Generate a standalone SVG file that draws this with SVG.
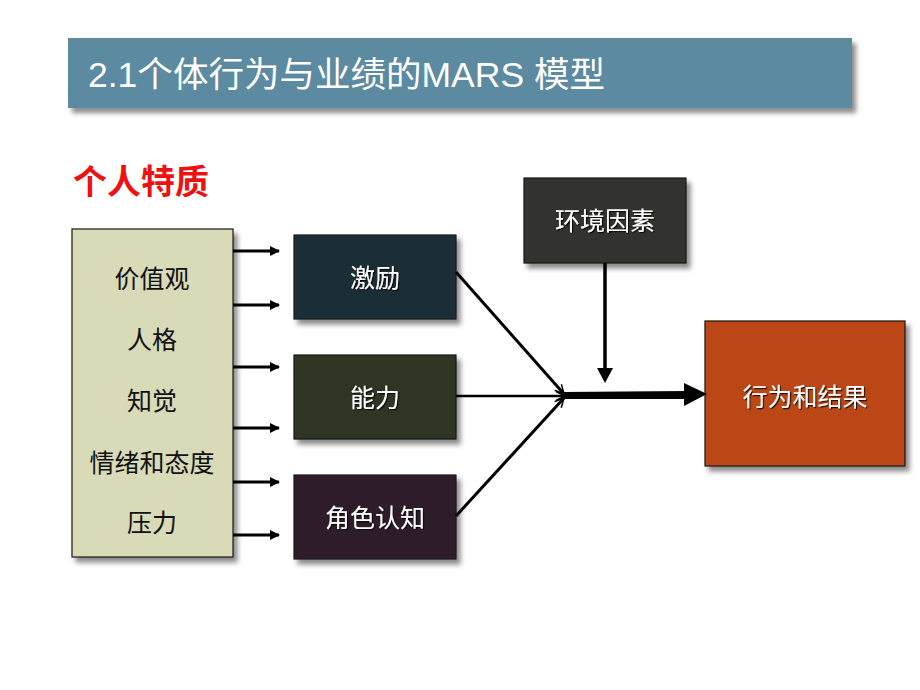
<svg xmlns="http://www.w3.org/2000/svg" width="920" height="690" viewBox="0 0 920 690">
<style>
.cn{font-family:"Liberation Sans","Noto Sans CJK SC",sans-serif;}
.lbl{font-size:25px;text-anchor:middle;font-family:"Liberation Sans","Noto Sans CJK SC",sans-serif;}
.w{fill:#ffffff;}
.k{fill:#111111;}
.box{stroke:#1a1a1a;stroke-width:1.2;filter:url(#sh);}
.ln{stroke:#000;fill:none;}
</style>
<defs>
<filter id="sh" x="-10%" y="-10%" width="130%" height="130%">
<feDropShadow dx="4" dy="5" stdDeviation="2.5" flood-color="#000" flood-opacity="0.45"/>
</filter>
<filter id="ts" x="-10%" y="-20%" width="130%" height="150%">
<feDropShadow dx="1.2" dy="1.2" stdDeviation="0.6" flood-color="#000" flood-opacity="0.8"/>
</filter>
<marker id="ah" markerWidth="10" markerHeight="10" refX="9" refY="5" orient="auto" markerUnits="userSpaceOnUse">
<path d="M0,0 L10,5 L0,10 Z" fill="#000"/>
</marker>
<marker id="oa" markerWidth="12" markerHeight="12" refX="11" refY="6" orient="auto" markerUnits="userSpaceOnUse">
<path d="M2,1.5 L11,6 L2,10.5" fill="none" stroke="#000" stroke-width="1.5"/>
</marker>
</defs>
<rect width="920" height="690" fill="#ffffff"/>
<g id="title">
<rect x="68" y="38" width="784" height="70" fill="#5b8aa0" filter="url(#sh)"/>
<text x="88" y="87" class="cn" font-size="35" fill="#ffffff" textLength="517" lengthAdjust="spacingAndGlyphs">2.1个体行为与业绩的MARS 模型</text>
</g>
<g id="heading">
<text x="73" y="194" class="cn" font-size="34" font-weight="bold" fill="#ee1111">个人特质</text>
</g>
<g id="traits">
<rect class="box" x="72" y="229" width="161" height="328" fill="#d8dab8"/>
<text class="lbl k" x="152" y="288">价值观</text>
<text class="lbl k" x="152" y="349">人格</text>
<text class="lbl k" x="152" y="410">知觉</text>
<text class="lbl k" x="152" y="472">情绪和态度</text>
<text class="lbl k" x="152" y="532">压力</text>
</g>
<g id="motivation">
<rect class="box" x="294" y="235" width="162" height="84" fill="#1f2f36"/>
<text class="lbl w" x="375" y="287" filter="url(#ts)">激励</text>
</g>
<g id="ability">
<rect class="box" x="294" y="355" width="162" height="84" fill="#2e3420"/>
<text class="lbl w" x="375" y="407" filter="url(#ts)">能力</text>
</g>
<g id="role">
<rect class="box" x="294" y="475" width="162" height="84" fill="#2e1c2c"/>
<text class="lbl w" x="375" y="527" filter="url(#ts)">角色认知</text>
</g>
<g id="environment">
<rect class="box" x="524" y="178" width="162" height="85" fill="#33332e"/>
<text class="lbl w" x="605" y="230" filter="url(#ts)">环境因素</text>
</g>
<g id="outcome">
<rect class="box" x="705" y="321" width="200" height="145" fill="#bb4719"/>
<text class="lbl w" x="805" y="406" filter="url(#ts)">行为和结果</text>
</g>
<g id="connectors">
<line class="ln" x1="233" y1="251" x2="279" y2="251" stroke-width="3" marker-end="url(#ah)"/>
<line class="ln" x1="233" y1="305" x2="279" y2="305" stroke-width="3" marker-end="url(#ah)"/>
<line class="ln" x1="233" y1="367" x2="279" y2="367" stroke-width="3" marker-end="url(#ah)"/>
<line class="ln" x1="233" y1="428" x2="279" y2="428" stroke-width="3" marker-end="url(#ah)"/>
<line class="ln" x1="233" y1="482" x2="279" y2="482" stroke-width="3" marker-end="url(#ah)"/>
<line class="ln" x1="233" y1="535" x2="279" y2="535" stroke-width="3" marker-end="url(#ah)"/>
<line class="ln" x1="456" y1="272" x2="564" y2="394" stroke-width="3" marker-end="url(#oa)"/>
<line class="ln" x1="456" y1="396" x2="565" y2="396" stroke-width="2.5" marker-end="url(#oa)"/>
<line class="ln" x1="456" y1="516" x2="564" y2="398" stroke-width="3" marker-end="url(#oa)"/>
<path d="M563,392 L686,391 L686,399 L563,399 Z" fill="#000"/>
<path d="M684,383 L707,394 L684,406 Z" fill="#000"/>
<line class="ln" x1="605" y1="263" x2="605" y2="370" stroke-width="3.5"/>
<path d="M597,368 L613,368 L605,383 Z" fill="#000"/>
</g>
</svg>
